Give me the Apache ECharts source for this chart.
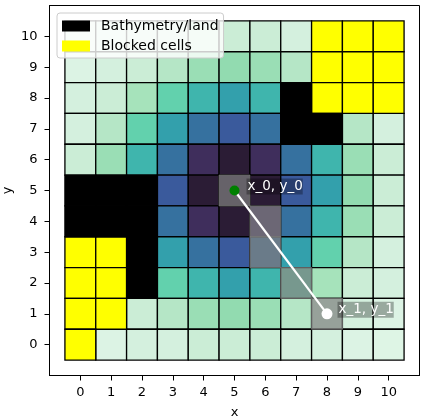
<!DOCTYPE html>
<html>
<head>
<meta charset="utf-8">
<script src="https://cdn.jsdelivr.net/npm/echarts@6/dist/echarts.min.js"></script>
<style>
html,body{margin:0;padding:0;background:#fff}
#chart{width:425px;height:420px}
</style>
</head>
<body>
<div id="chart"></div>
<script>
var tickValues = [0,1,2,3,4,5,6,7,8,9,10]
// one row per y, from y=10 down to y=0, colour level of every cell, null = land or blocked
var depthRows = [
  [0,1,2,2,3,3,3,2,null,null,null],
  [1,2,3,4,6,7,6,4,null,null,null],
  [2,3,5,8,9,10,9,null,null,null,null],
  [2,4,8,10,11,12,11,null,null,4,2],
  [3,6,9,11,13,14,13,11,9,6,3],
  [null,null,null,12,14,14,14,12,10,7,3],
  [null,null,null,11,13,14,13,11,9,6,3],
  [null,null,null,10,11,12,11,10,8,4,2],
  [null,null,null,8,9,10,9,8,5,3,2],
  [null,null,3,4,6,7,6,4,3,2,1],
  [null,1,2,2,3,3,3,2,2,1,0]
]
var depthColors = ['#def5e5','#dcf3e4','#d4f0de','#cbedd6','#b5e6c6','#a6e3bb','#9adeb5','#92dbb0',
  '#62d1ad','#3fb5ad','#33a0ac','#36719f','#3a5a9c','#3f2e5c','#2b1c35']
var landCells = [[0,5],[1,5],[2,5],[0,4],[1,4],[2,4],[2,3],[2,2],[7,8],[7,7],[8,7]]
var blockedCells = [[8,10],[9,10],[10,10],[8,9],[9,9],[10,9],[8,8],[9,8],[10,8],[0,3],[1,3],[0,2],[1,2],[0,1],[1,1],[0,0]]
var pathCells = [[5,5],[6,4],[6,3],[7,2],[8,1]]
var startPoint = [5,5]
var endPoint = [8,1]

var depthData = []
depthRows.forEach(function(row,i){
  row.forEach(function(v,x){
    if(v!==null) depthData.push([x,10-i,v])
  })
})

function cellItem(lineColor,lineWidth){
  return function(params,api){
    var p = api.coord([api.value(0)-0.5,api.value(1)+0.5])
    var s = api.size([1,1])
    return {
      type:'rect',
      shape:{x:p[0],y:p[1],width:s[0],height:s[1]},
      style:{fill:api.visual('color'),stroke:lineColor,lineWidth:lineWidth}
    }
  }
}

var textFont = 'DejaVu Sans'
var mychart = echarts.init(document.getElementById('chart'))
var option = {
  animation:false,
  backgroundColor:'#fff',
  textStyle:{fontFamily:textFont},
  grid:{show:true,outerBoundsMode:'none',left:49.5,top:5.5,width:370,height:370,borderColor:'#000',borderWidth:1,backgroundColor:'#fff'},
  legend:{
    left:57,top:13,orient:'vertical',padding:[5,5,4,5],itemGap:4,itemWidth:28,itemHeight:11,icon:'rect',
    backgroundColor:'rgba(255,255,255,0.8)',borderColor:'#ccc',borderWidth:1,borderRadius:3,
    textStyle:{fontFamily:textFont,fontSize:14,color:'#000',lineHeight:16,padding:[0,0,0,6]},
    data:['Bathymetry/land','Blocked cells']
  },
  visualMap:{show:false,seriesIndex:0,dimension:2,min:0,max:depthColors.length-1,inRange:{color:depthColors}},
  xAxis:{
    type:'value',min:-1,max:11,interval:1,name:'x',nameLocation:'middle',nameGap:31,
    nameTextStyle:{color:'#000',fontSize:13,fontFamily:textFont},
    axisLine:{show:true,onZero:false,lineStyle:{color:'#000'}},
    axisTick:{show:true,length:5,lineStyle:{color:'#000'},customValues:tickValues},
    axisLabel:{color:'#000',fontSize:13,margin:11,customValues:tickValues},
    splitLine:{show:false}
  },
  yAxis:{
    type:'value',min:-1,max:11,interval:1,name:'y',nameLocation:'middle',nameGap:35,nameMoveOverlap:false,
    nameTextStyle:{color:'#000',fontSize:13,fontFamily:textFont},
    axisLine:{show:true,onZero:false,lineStyle:{color:'#000'}},
    axisTick:{show:true,length:5,lineStyle:{color:'#000'},customValues:tickValues},
    axisLabel:{color:'#000',fontSize:13,margin:12,customValues:tickValues},
    splitLine:{show:false}
  },
  series:[
    {type:'custom',name:'depth',renderItem:cellItem('#000',1.3),data:depthData,encode:{x:0,y:1},z:2},
    {type:'custom',name:'Blocked cells',renderItem:cellItem('#000',1.3),data:blockedCells,itemStyle:{color:'#ffff00'},encode:{x:0,y:1},z:3},
    {type:'custom',name:'Bathymetry/land',renderItem:cellItem('#000',1.3),data:landCells,itemStyle:{color:'#000'},encode:{x:0,y:1},z:3},
    {type:'custom',name:'path',renderItem:cellItem('rgba(128,128,128,0.7)',1),data:pathCells,itemStyle:{color:'rgba(128,128,128,0.7)'},encode:{x:0,y:1},z:4},
    {type:'line',name:'segment',data:[startPoint,endPoint],symbol:'none',lineStyle:{color:'#fff',width:2.2},z:5},
    {type:'scatter',name:'start',data:[startPoint],symbolSize:10,itemStyle:{color:'#008000',opacity:1},z:6,
      label:{show:true,position:'right',distance:7,offset:[0,-4],formatter:'x_0, y_0',color:'#fff',fontSize:13.5,fontFamily:textFont,
        backgroundColor:'rgba(0,0,0,0.3)',padding:[1,0,1,1]}},
    {type:'scatter',name:'end',data:[endPoint],symbolSize:11,itemStyle:{color:'#fff',opacity:1},z:6,
      label:{show:true,position:'right',distance:5,offset:[0,-4],formatter:'x_1, y_1',color:'#fff',fontSize:13.5,fontFamily:textFont,
        backgroundColor:'rgba(0,0,0,0.3)',padding:[1,0,1,1]}}
  ]
}
mychart.setOption(option)
</script>
</body>
</html>
